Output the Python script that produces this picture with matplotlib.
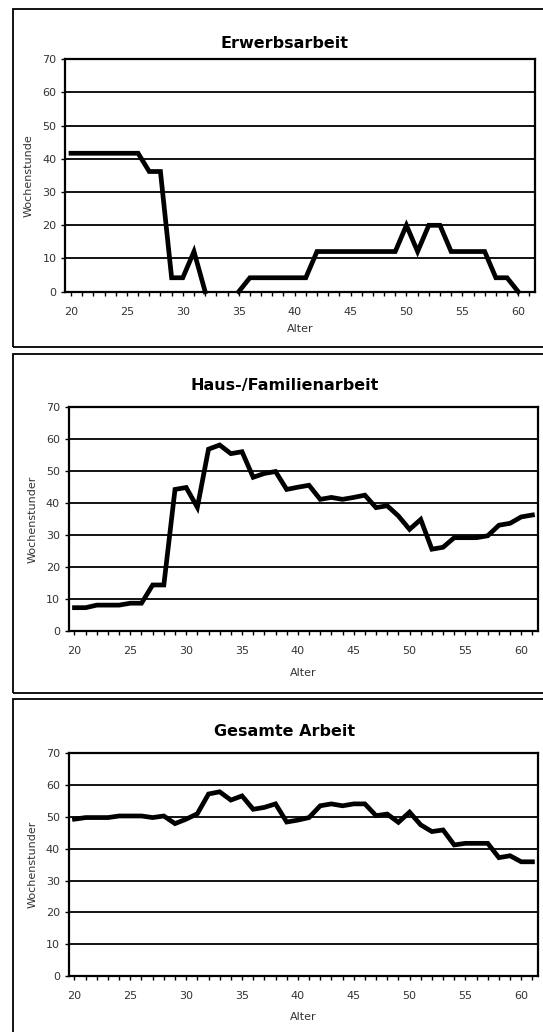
import numpy as np
import matplotlib
matplotlib.use("Agg")
import matplotlib.pyplot as plt
from matplotlib.patches import Rectangle

W, H = 543, 1032

ages = np.arange(20, 62)
nan = np.nan

# Wochenstunden, Alter 20..61
erwerb = [41.7, 41.7, 41.7, 41.7, 41.7, 41.7, 41.7, 36.2, 36.2, 4.2,
          4.2, 12.1, 0.0, nan, nan, 0.0, 4.2, 4.2, 4.2, 4.2,
          4.2, 4.2, 12.1, 12.1, 12.1, 12.1, 12.1, 12.1, 12.1, 12.1,
          20.0, 12.1, 20.0, 20.0, 12.1, 12.1, 12.1, 12.1, 4.2, 4.2,
          0.0, nan]
haus = [7.3, 7.3, 8.1, 8.1, 8.1, 8.7, 8.7, 14.4, 14.4, 44.3,
        44.9, 38.7, 56.9, 58.2, 55.5, 56.1, 48.1, 49.3, 49.9, 44.3,
        45.0, 45.6, 41.2, 41.8, 41.2, 41.8, 42.5, 38.6, 39.2, 36.0,
        31.8, 34.9, 25.6, 26.2, 29.2, 29.2, 29.2, 29.8, 33.1, 33.7,
        35.7, 36.3]
gesamt = [49.3, 49.8, 49.8, 49.8, 50.3, 50.3, 50.3, 49.8, 50.3, 47.9,
          49.3, 51.0, 57.2, 57.9, 55.3, 56.6, 52.4, 53.0, 54.1, 48.4,
          49.0, 49.8, 53.5, 54.1, 53.5, 54.1, 54.1, 50.4, 50.9, 48.3,
          51.5, 47.5, 45.4, 45.9, 41.2, 41.7, 41.7, 41.7, 37.2, 37.8,
          35.9, 35.9]

titles = ["Erwerbsarbeit", "Haus-/Familienarbeit", "Gesamte Arbeit"]
ylabels = ["Wochenstunde", "Wochenstunder", "Wochenstunder"]
series = [erwerb, haus, gesamt]

# pixel layout: (box_top, box_bottom, ax_left, ax_right, ax_top, ax_bottom, title_y, xlabel_y)
layout = [
    (9.5, 347, 65.4, 535, 59.3, 291.7, 43, 329),
    (353.7, 693, 68.9, 538, 407.3, 631, 385.7, 673),
    (699, 1040, 68.9, 538, 753.3, 976, 731.7, 1016.7),
]

fig = plt.figure(figsize=(W / 100, H / 100), dpi=100)
txt = "#333333"

for (bt, bb, l, r, t, b, ty, xy), title, ylab, vals in zip(layout, titles, ylabels, series):
    fig.patches.append(Rectangle((13 / W, 1 - bb / H), (560 - 13) / W, (bb - bt) / H,
                                 transform=fig.transFigure, fill=False,
                                 edgecolor="black", lw=1.3))
    ax = fig.add_axes([l / W, 1 - b / H, (r - l) / W, (b - t) / H])
    ax.plot(ages, vals, color="black", lw=3.4, solid_joinstyle="miter", clip_on=False)
    ax.set_xlim(19.5, 61.5)
    ax.set_ylim(0, 70)
    ax.set_yticks(range(0, 71, 10))
    ax.set_xticks(range(20, 61, 5))
    ax.set_xticks(range(20, 62), minor=True)
    ax.grid(axis="y", color="black", lw=1.3)
    ax.set_axisbelow(True)
    for s in ax.spines.values():
        s.set_linewidth(1.6)
    ax.tick_params(axis="y", direction="out", length=3, width=1, pad=3.5,
                   labelsize=8, labelcolor=txt)
    ax.tick_params(axis="x", which="both", direction="out", length=3, width=1,
                   pad=8, labelsize=8, labelcolor=txt)
    ax.set_ylabel(ylab, fontsize=8, color=txt, labelpad=6)
    fig.text(284.5 / W, 1 - ty / H, title, ha="center", va="center",
             fontsize=11.5, fontweight="bold")
    fig.text((l + r) / 2 / W, 1 - xy / H, "Alter", ha="center", va="center",
             fontsize=8, color=txt)

fig.savefig("out.png", dpi=100)
